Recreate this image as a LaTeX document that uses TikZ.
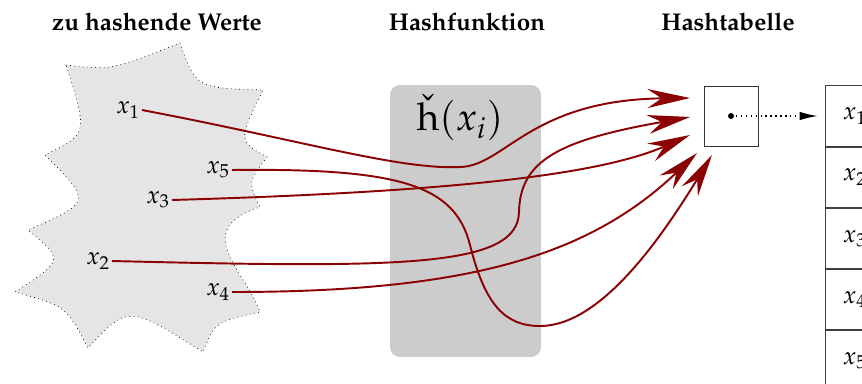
\documentclass[tikz,border=0pt]{standalone}
\usepackage[T1]{fontenc}
\usepackage{mathpazo}
\usepackage{amsmath}
\usepackage{xcolor}
\usepackage{tikz}
\usetikzlibrary{arrows.meta,positioning}

\definecolor{hashred}{RGB}{139,0,0}
\tikzset{
  heading/.style={font=\fontsize{13.8}{16}\selectfont\bfseries, anchor=base},
  val/.style={font=\fontsize{14}{16}\selectfont, inner sep=1pt},
  hashline/.style={hashred, line width=1.1pt, -{Stealth[length=0.85cm,width=0.38cm,inset=0.28cm]}},
  cell/.style={draw=black!75, minimum height=1.21cm, text width=0.48cm, inner xsep=0.36cm, align=left, font=\fontsize{14}{16}\selectfont},
}

\begin{document}
\begin{tikzpicture}[x=0.02cm,y=-0.02cm]
  \useasboundingbox (0,0) rectangle (862,383);
  \clip (0,0) rectangle (862,383);

  \node[heading] (hw) at (157,30) {zu hashende Werte};
  \node[heading] (hf-title) at (467,30) {Hashfunktion};
  \node[heading] (ht) at (728,30) {Hashtabelle};

  \path[fill=black!10, draw, dotted]
    (66,65) .. controls (112,70) .. (180,43)
    .. controls (196,88) .. (263,90)
    .. controls (238,141) .. (267,157)
    .. controls (248,182) .. (260,207)
    .. controls (190,230) and (245,270) .. (260,312)
    .. controls (215,322) .. (203,352)
    .. controls (128,305) .. (88,348)
    .. controls (66,306) .. (15,292)
    .. controls (64,260) .. (28,230)
    .. controls (92,202) .. (45,155)
    .. controls (88,134) .. cycle;

  \node[fill=black!20, rounded corners=0.2cm, minimum width=3.02cm, minimum height=5.44cm] (hf) at (465.5,221) {};
  \node[font=\fontsize{22}{26}\selectfont] (hlab) at (460,118) {$\check{\mathrm{h}}(x_i)$};

  \coordinate[label={[val]left:$x_1$}] (x1) at (142,110);
  \coordinate[label={[val]left:$x_5$}] (x5) at (232,170);
  \coordinate[label={[val]left:$x_3$}] (x3) at (172,200);
  \coordinate[label={[val]left:$x_2$}] (x2) at (112,261);
  \coordinate[label={[val]left:$x_4$}] (x4) at (232,292);

  \node[draw=black!80, minimum width=1.08cm, minimum height=1.2cm] (bucket) at (731,116) {};
  \fill (bucket.center) circle (0.06cm);

  \coordinate (t1) at (690,98);
  \coordinate (t2) at (690,117);
  \coordinate (t3) at (690,135);
  \coordinate (t4) at (697,153);
  \coordinate (t5) at (712,155);

  \node[cell] (c1) at (855,116) {$x_1$};
  \node[cell, below=0pt of c1] (c2) {$x_2$};
  \node[cell, below=0pt of c2] (c3) {$x_3$};
  \node[cell, below=0pt of c3] (c4) {$x_4$};
  \node[cell, below=0pt of c4] (c5) {$x_5$};

  \draw[dotted, line width=0.8pt, shorten >=0.14cm, -{Latex[length=0.36cm,width=0.17cm]}] (bucket.center) -- (c1.west);

  \draw[hashline] (x1) .. controls (300,140) and (400,170) .. (460,167) .. controls (505,166) and (530,100) .. (t1);
  \draw[hashline] (x2) .. controls (400,268) and (518,268) .. (519,212) .. controls (520,160) and (560,140) .. (t2);
  \draw[hashline] (x3) .. controls (450,192) and (600,175) .. (t3);
  \draw[hashline] (x4) .. controls (470,292) and (590,255) .. (t4);
  \draw[hashline] (x5) .. controls (400,168) and (455,185) .. (470,245) .. controls (485,305) and (505,326) .. (540,326) .. controls (600,326) and (660,240) .. (t5);
\end{tikzpicture}
\end{document}
